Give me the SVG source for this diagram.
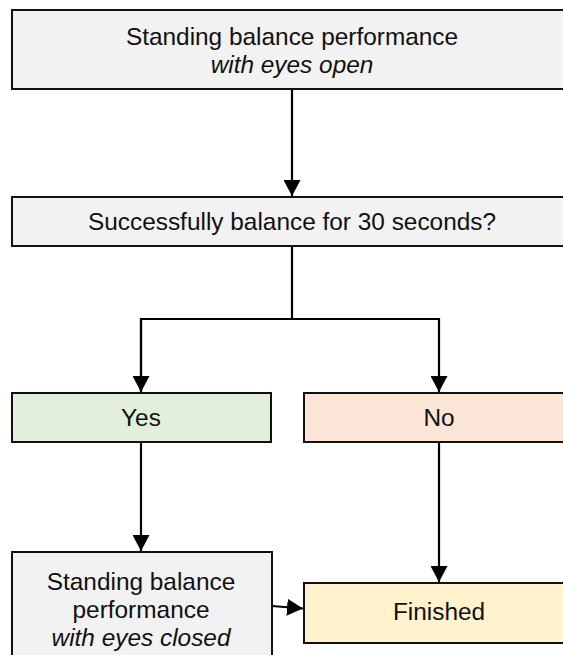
<svg xmlns="http://www.w3.org/2000/svg" width="563" height="655" viewBox="0 0 563 655">
<defs>
<marker id="arr" markerUnits="userSpaceOnUse" markerWidth="17" markerHeight="17" refX="16" refY="8.5" orient="auto">
<path d="M0,0 L16,8.5 L0,17 Z" fill="#000"/>
</marker>
<style>
.box{stroke:#111;stroke-width:2}
.t{font-family:"Liberation Sans",Arial,sans-serif;font-size:24.4px;fill:#111;text-anchor:middle}
.i{font-style:italic}
.c{fill:none;stroke:#000;stroke-width:2.2}
</style>
</defs>
<rect width="563" height="655" fill="#fff"/>
<g id="connectors">
<line class="c" x1="292" y1="89" x2="292" y2="196" marker-end="url(#arr)"/>
<polyline class="c" points="292,246 292,319"/>
<polyline class="c" points="141,392 141,319 439,319 439,392" marker-end="url(#arr)"/>
<line class="c" x1="141" y1="319" x2="141" y2="392" marker-end="url(#arr)"/>
<line class="c" x1="141" y1="442" x2="141" y2="551" marker-end="url(#arr)"/>
<line class="c" x1="439" y1="442" x2="439" y2="582" marker-end="url(#arr)"/>
<line class="c" x1="272" y1="606" x2="303" y2="608.5" marker-end="url(#arr)"/>
</g>
<g id="start">
<rect class="box" x="12" y="10" width="560" height="79" fill="#f2f2f2"/>
<text class="t" x="292" y="45">Standing balance performance</text>
<text class="t i" x="292" y="73">with eyes open</text>
</g>
<g id="question">
<rect class="box" x="12" y="197" width="560" height="49" fill="#f2f2f2"/>
<text class="t" x="292" y="230">Successfully balance for 30 seconds?</text>
</g>
<g id="yes">
<rect class="box" x="12" y="393" width="259" height="49" fill="#e2efda"/>
<text class="t" x="141" y="426">Yes</text>
</g>
<g id="no">
<rect class="box" x="304" y="393" width="270" height="49" fill="#fbe5d6"/>
<text class="t" x="439" y="426">No</text>
</g>
<g id="closed">
<rect class="box" x="12" y="552" width="260" height="115" fill="#f2f2f2"/>
<text class="t" x="141" y="590">Standing balance</text>
<text class="t" x="141" y="618">performance</text>
<text class="t i" x="141" y="646">with eyes closed</text>
</g>
<g id="finished">
<rect class="box" x="304" y="583" width="270" height="60" fill="#fff2cc"/>
<text class="t" x="439" y="620">Finished</text>
</g>
</svg>
